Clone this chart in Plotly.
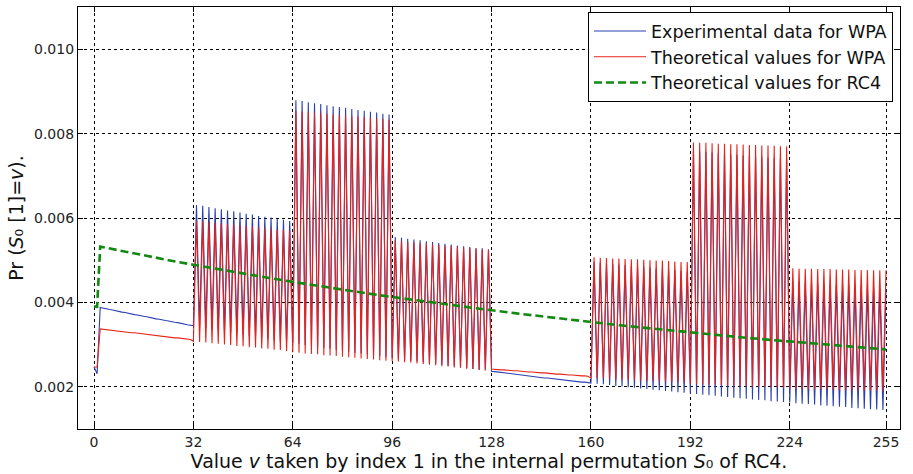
import plotly.graph_objects as go

# values in units of 1e-5
UNIT = 1e-5
v_values = list(range(256))

blue_exp_wpa = [
    247, 231, 388, 386, 385, 383, 382, 380, 379, 377, 376, 374, 373, 371, 370, 368,
    367, 366, 364, 363, 361, 360, 358, 357, 356, 354, 353, 352, 350, 349, 347, 346,
    345, 631, 342, 629, 339, 626, 337, 623, 334, 621, 331, 618, 329, 616, 326, 613,
    324, 610, 321, 608, 319, 605, 316, 603, 314, 601, 311, 598, 309, 596, 306, 593,
    304, 879, 302, 877, 299, 874, 297, 872, 295, 870, 292, 867, 290, 865, 288, 863,
    286, 861, 283, 858, 281, 856, 279, 854, 277, 852, 275, 850, 273, 847, 270, 845,
    268, 555, 266, 553, 264, 551, 262, 549, 260, 547, 258, 545, 256, 543, 254, 541,
    252, 539, 250, 537, 248, 535, 246, 533, 244, 531, 242, 529, 240, 528, 239, 526,
    237, 236, 235, 234, 233, 232, 231, 230, 229, 229, 228, 227, 226, 225, 224, 223,
    222, 221, 221, 220, 219, 218, 217, 216, 215, 215, 214, 213, 212, 211, 211, 210,
    209, 496, 207, 494, 206, 493, 204, 491, 202, 490, 201, 488, 199, 486, 198, 485,
    196, 483, 195, 482, 193, 480, 192, 479, 190, 477, 189, 476, 187, 474, 186, 473,
    184, 760, 183, 758, 181, 757, 180, 755, 179, 754, 177, 753, 176, 751, 174, 750,
    173, 748, 172, 747, 170, 746, 169, 744, 168, 743, 166, 742, 165, 741, 164, 739,
    163, 450, 161, 449, 160, 447, 159, 446, 158, 445, 156, 444, 155, 443, 154, 441,
    153, 440, 152, 439, 150, 438, 149, 437, 148, 435, 147, 434, 146, 433, 145, 432,
]

red_theory_wpa = [
    247, 247, 337, 336, 335, 334, 334, 333, 332, 331, 330, 329, 328, 328, 327, 326,
    325, 324, 323, 322, 322, 321, 320, 319, 318, 317, 316, 316, 315, 314, 313, 312,
    308, 593, 306, 592, 305, 590, 303, 589, 302, 587, 300, 586, 299, 584, 297, 582,
    296, 581, 294, 579, 293, 578, 291, 576, 290, 575, 288, 573, 287, 572, 285, 570,
    282, 853, 281, 852, 279, 851, 278, 849, 277, 848, 275, 847, 274, 845, 273, 844,
    271, 843, 270, 841, 269, 840, 267, 839, 266, 837, 265, 836, 263, 835, 262, 833,
    261, 546, 260, 545, 258, 543, 257, 542, 255, 540, 254, 539, 252, 537, 251, 536,
    249, 535, 248, 533, 246, 532, 245, 530, 243, 529, 242, 527, 240, 526, 239, 524,
    242, 241, 241, 240, 240, 239, 239, 238, 238, 237, 237, 236, 235, 235, 234, 234,
    233, 233, 232, 232, 231, 230, 230, 229, 229, 228, 228, 227, 227, 226, 226, 225,
    221, 507, 220, 506, 220, 505, 219, 504, 218, 504, 217, 503, 217, 502, 216, 502,
    215, 501, 214, 500, 214, 499, 213, 499, 212, 498, 211, 497, 211, 496, 210, 496,
    207, 779, 206, 778, 206, 778, 205, 777, 205, 776, 204, 776, 203, 775, 203, 775,
    202, 774, 202, 773, 201, 773, 200, 772, 200, 772, 199, 771, 199, 770, 198, 770,
    195, 481, 195, 480, 194, 480, 194, 480, 194, 479, 193, 479, 193, 479, 193, 478,
    192, 478, 192, 478, 192, 477, 191, 477, 191, 477, 191, 476, 190, 476, 190, 476,
]

green_v = [0, 1, 2, 8, 16, 24, 32, 40, 48, 56, 64, 72, 80, 88, 96, 104, 112, 120,
           128, 136, 144, 152, 160, 168, 176, 184, 192, 200, 208, 216, 224, 232,
           240, 248, 255]
green_theory_rc4 = [390.6, 389.7, 532.1, 523.1, 511.4, 500.1, 489.2, 478.5, 468.2,
                    458.3, 448.6, 439.2, 430.1, 421.3, 412.8, 404.5, 396.5, 388.7,
                    381.2, 373.9, 366.8, 360.0, 353.4, 346.9, 340.7, 334.6, 328.8,
                    323.1, 317.6, 312.3, 307.1, 302.1, 297.2, 292.5, 288.5]

x_tick_vals = [0, 32, 64, 96, 128, 160, 192, 224, 255]
y_tick_vals = [0.002, 0.004, 0.006, 0.008, 0.010]
y_tick_text = ["0.002", "0.004", "0.006", "0.008", "0.010"]

fig = go.Figure()
fig.add_trace(go.Scatter(x=v_values, y=[b * UNIT for b in blue_exp_wpa], mode="lines",
                         line=dict(color="#2a3fb0", width=1.1),
                         name="Experimental data for WPA"))
fig.add_trace(go.Scatter(x=v_values, y=[r * UNIT for r in red_theory_wpa], mode="lines",
                         line=dict(color="#e8221b", width=1.1),
                         name="Theoretical values for WPA"))
fig.add_trace(go.Scatter(x=green_v, y=[g * UNIT for g in green_theory_rc4], mode="lines",
                         line=dict(color="#128a12", width=2.6, dash="8px,4px"),
                         name="Theoretical values for RC4"))

axis_common = dict(showline=True, linecolor="black", linewidth=1.2, mirror="ticks",
                   ticks="inside", ticklen=5, tickcolor="black", tickwidth=1,
                   showgrid=True, gridcolor="black", gridwidth=0.8, griddash="3px,3px",
                   zeroline=False, tickfont=dict(size=14, color="#222"))

fig.update_layout(
    width=913, height=474,
    margin=dict(l=78, r=13, t=6, b=43),
    plot_bgcolor="white", paper_bgcolor="white",
    font=dict(family="DejaVu Sans", color="#111"),
    xaxis=dict(range=[-5.15, 259.5], tickvals=x_tick_vals,
               title=dict(text="Value <i>v</i> taken by index 1 in the internal permutation <i>S</i>\u2080 of RC4.",
                          font=dict(size=19), standoff=5),
               **axis_common),
    yaxis=dict(range=[0.001, 0.011], tickvals=y_tick_vals, ticktext=y_tick_text,
               title=dict(text="Pr (<i>S</i>\u2080 [1]=<i>v</i>).",
                          font=dict(size=19), standoff=5),
               **axis_common),
    legend=dict(x=0.9915, xanchor="right", y=0.988, yanchor="top",
                bordercolor="black", borderwidth=1, bgcolor="white",
                itemwidth=52,
                font=dict(size=17.5, color="#111"), tracegroupgap=0),
)

fig.write_html("out.html")
